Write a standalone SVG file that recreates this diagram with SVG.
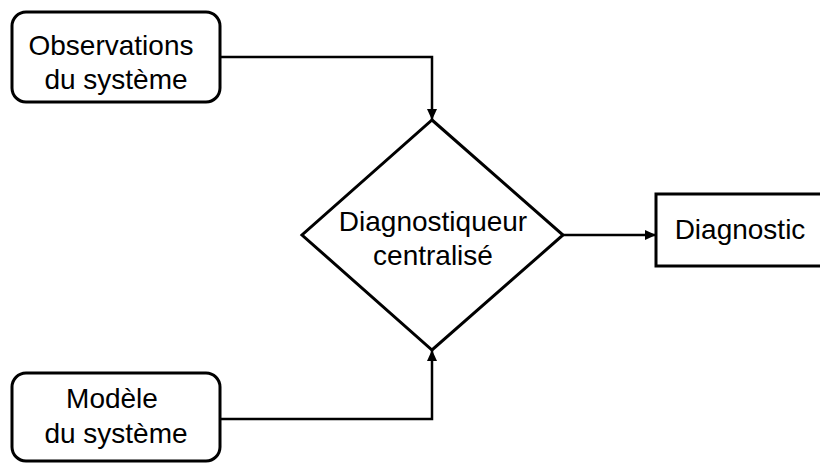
<svg xmlns="http://www.w3.org/2000/svg" width="820" height="464" viewBox="0 0 820 464">
  <style>
    .node { fill: #ffffff; stroke: #000000; stroke-width: 3; }
    .conn { fill: none; stroke: #000000; stroke-width: 2.5; }
    .label { font-family: "Liberation Sans", Arial, sans-serif; font-size: 28px; fill: #000000; text-anchor: middle; }
  </style>
  <defs>
    <marker id="arrow" markerUnits="userSpaceOnUse" markerWidth="11" markerHeight="10" refX="11" refY="5" orient="auto">
      <path d="M0,0 L11,5 L0,10 z" fill="#000000"/>
    </marker>
  </defs>
  <rect width="820" height="464" fill="#ffffff"/>
  <g id="connectors">
    <path class="conn" d="M220,57 H432 V120" marker-end="url(#arrow)"/>
    <path class="conn" d="M220,419 H432 V350" marker-end="url(#arrow)"/>
    <path class="conn" d="M563,235 H656" marker-end="url(#arrow)"/>
  </g>
  <g id="observations">
    <rect class="node" x="12" y="12" width="208" height="90" rx="14" ry="14"/>
    <text class="label" x="111" y="55">Observations</text>
    <text class="label" x="116" y="89">du système</text>
  </g>
  <g id="modele">
    <rect class="node" x="12" y="373" width="208" height="88" rx="14" ry="14"/>
    <text class="label" x="112" y="408">Modèle</text>
    <text class="label" x="116" y="443">du système</text>
  </g>
  <g id="diagnostiqueur">
    <polygon class="node" points="432,120 563,235 432,350 302,235"/>
    <text class="label" x="433" y="231">Diagnostiqueur</text>
    <text class="label" x="433" y="265">centralisé</text>
  </g>
  <g id="diagnostic">
    <rect class="node" x="656" y="194" width="200" height="72"/>
    <text class="label" x="740" y="239">Diagnostic</text>
  </g>
</svg>
